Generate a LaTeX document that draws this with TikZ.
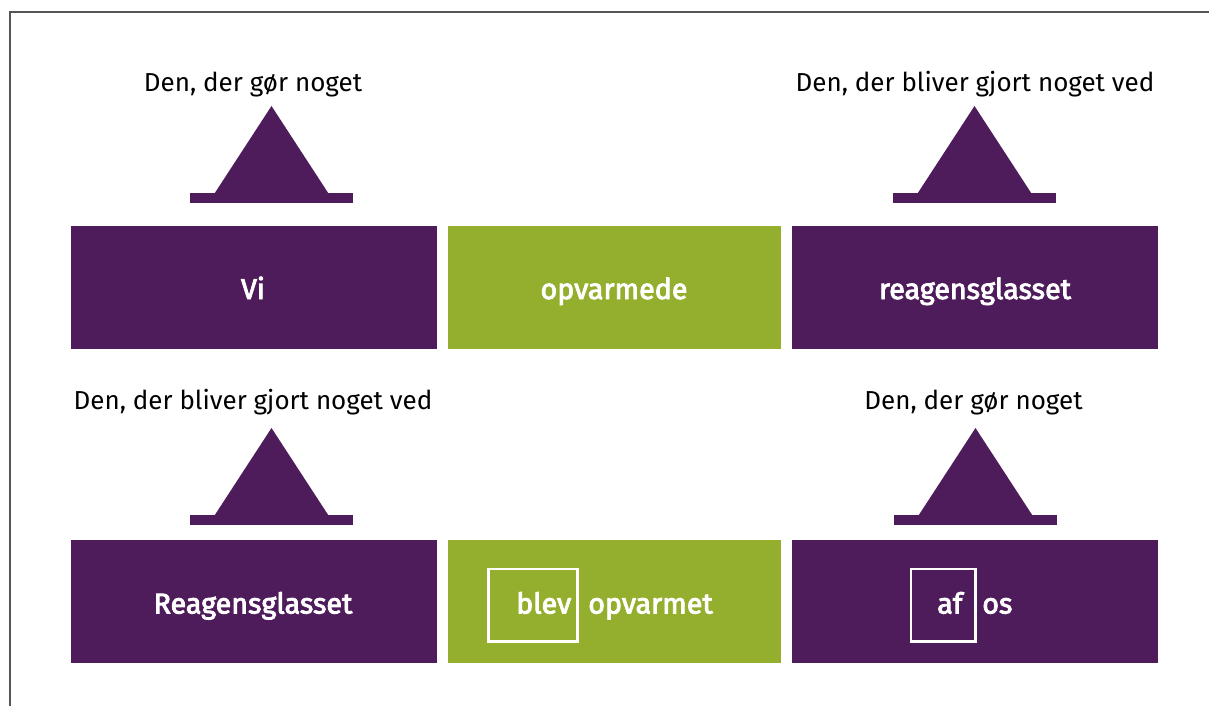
\documentclass[tikz,border=0pt]{standalone}
\usepackage{fontspec}
\setmainfont{Fira Sans}
\newfontfamily\midfont[FakeBold=3]{Fira Sans}
\definecolor{plum}{HTML}{4E1B5B}
\definecolor{leaf}{HTML}{93AF2D}
\definecolor{frame}{HTML}{555555}
\begin{document}
\begin{tikzpicture}[x=0.75pt,y=-0.75pt,
  pbox/.style={fill=plum,draw=none,inner sep=0pt,minimum width=274.5pt,minimum height=92.25pt},
  gbox/.style={fill=leaf,draw=none,inner sep=0pt,minimum width=249.75pt,minimum height=92.25pt},
  boxtext/.style={text=white,font=\fontsize{21.5}{26}\midfont,inner sep=0pt,anchor=base},
  lbl/.style={text=black,font=\fontsize{19.5}{23}\selectfont,inner sep=0pt,anchor=base},
  wframe/.style={draw=white,line width=2.2pt,inner sep=0pt,minimum width=67pt,minimum height=54.5pt},
  tri/.style={fill=plum,draw=none}
]
\useasboundingbox (0,0) rectangle (1209,706);
\draw[frame,line width=1.2pt] (10,706) -- (10,12) -- (1209,12);

% boxes
\node[pbox] (b1) at (254,287.5) {};
\node[gbox] (b2) at (614.5,287.5) {};
\node[pbox] (b3) at (975,287.5) {};
\node[pbox] (b4) at (254,601.5) {};
\node[gbox] (b5) at (614.5,601.5) {};
\node[pbox] (b6) at (975,601.5) {};

% box texts
\node[boxtext] (t1) at (253,299) {Vi};
\node[boxtext] (t2) at (614,299) {opvarmede};
\node[boxtext] (t3) at (975,299) {reagensglasset};
\node[boxtext] (t4) at (253,613.5) {Reagensglasset};
\node[boxtext,anchor=base west] (t5a) at (516,613.5) {blev};
\node[boxtext,anchor=base west] (t5b) at (588,613.5) {opvarmet};
\node[boxtext,anchor=base west] (t6a) at (937,613.5) {af};
\node[boxtext,anchor=base west] (t6b) at (982,613.5) {os};
\node[wframe] (f5) at (533,605.3) {};
\node[wframe,minimum width=48.5pt] (f6) at (943.3,605.3) {};

% triangles
\foreach \cx/\by/\nm in {271.5/193/a, 974.5/193/b, 271.5/515/c, 975.5/515/d}{
  \fill[tri] (\cx-81.5,\by) rectangle (\cx+81.5,\by+10);
  \fill[tri] (\cx-57,\by+0.5) -- (\cx,\by-87) -- (\cx+57,\by+0.5) -- cycle;
}

% labels
\node[lbl] (l1) at (253,92) {Den, der gør noget};
\node[lbl] (l2) at (975,92) {Den, der bliver gjort noget ved};
\node[lbl] (l3) at (253,409.5) {Den, der bliver gjort noget ved};
\node[lbl] (l4) at (973.5,409.5) {Den, der gør noget};
\end{tikzpicture}
\end{document}
